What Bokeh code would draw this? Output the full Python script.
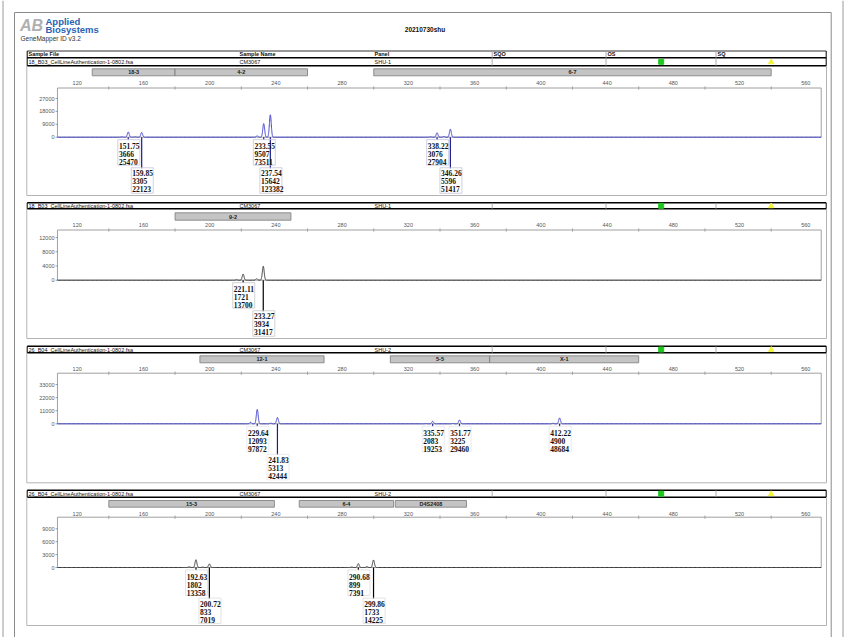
import numpy as np
from bokeh.plotting import figure
from bokeh.models import Range1d
from bokeh.embed import file_html
from bokeh.resources import INLINE
from bokeh.core.properties import value

# ------------------------------------------------------------------ data
title_text = "20210730shu"
software_text = "GeneMapper ID v3.2"
header_cols = ["Sample File", "Sample Name", "Panel", "SQO", "OS", "SQ"]
sample_files = ["18_B03_CellLineAuthentication-1-0802.fsa",
                "18_B03_CellLineAuthentication-1-0802.fsa",
                "26_B04_CellLineAuthentication-1-0802.fsa",
                "26_B04_CellLineAuthentication-1-0802.fsa"]
sample_names = ["CM3067", "CM3067", "CM3067", "CM3067"]
panel_names = ["SHU-1", "SHU-1", "SHU-2", "SHU-2"]

x_tick_labels = [120, 160, 200, 240, 280, 320, 360, 400, 440, 480, 520, 560]
x_minor_ticks = [140, 180, 220, 260, 300, 340, 380, 420, 460, 500, 540]

y_ticks_1 = [0, 9000, 18000, 27000]
y_ticks_2 = [0, 4000, 8000, 12000]
y_ticks_3 = [0, 11000, 22000, 33000]
y_ticks_4 = [0, 3000, 6000, 9000]

bins_1_name = ["18-3", "4-2", "6-7"]
bins_1_start = [130, 180, 300]
bins_1_end = [180, 260, 540]
bins_2_name = ["9-2"]
bins_2_start = [180]
bins_2_end = [250]
bins_3_name = ["12-1", "5-5", "X-1"]
bins_3_start = [195, 310, 370]
bins_3_end = [270, 370, 460]
bins_4_name = ["15-3", "6-4", "D4S2408"]
bins_4_start = [140, 255, 313]
bins_4_end = [240, 312, 356]

# called peaks: size (bp), height (RFU), area
p1_size = [151.75, 159.85, 233.55, 237.54, 338.22, 346.26]
p1_height = [3666, 3305, 9507, 15642, 3076, 5596]
p1_area = [25470, 22123, 73511, 123382, 27904, 51417]
p2_size = [221.11, 233.27]
p2_height = [1721, 3934]
p2_area = [13700, 31417]
p3_size = [229.64, 241.83, 335.57, 351.77, 412.22]
p3_height = [12093, 5313, 2083, 3225, 4900]
p3_area = [97872, 42444, 19253, 29460, 48684]
p4_size = [192.63, 200.72, 290.68, 299.86]
p4_height = [1802, 833, 899, 1733]
p4_area = [13358, 7019, 7391, 14225]

# small uncalled stutter bumps (estimated)
s1_pos = [147.8, 155.9, 229.6, 334.3, 342.3]
s1_h = [300, 300, 900, 300, 500]
s2_pos = [217.1, 229.3]
s2_h = [150, 400]
s3_pos = [225.6, 237.8, 331.6, 347.8, 408.2]
s3_h = [1300, 500, 200, 300, 400]
s4_pos = [188.6, 196.7, 286.7, 295.9]
s4_h = [150, 80, 100, 200]

# ------------------------------------------------------------------ layout
W, H = 846, 637
PAGE_TOP, PAGE_BOT = 0, H
X_START, X_END = 74.60, 585.47          # bp range spanning the whole figure width
PX_PER_BP = W / (X_END - X_START)
PLOT_LEFT, PLOT_RIGHT = 109.0, 570.2     # bp extent of each plot box
SIGMA = 0.55

panels = [
    dict(head=50.5, mid=57.3, bottom=65.3, bin_top=68.3, bin_bot=75.3, xlab=82.0,
         box_top=87.5, base=136.7, s=12.9 / 9000, outer_bot=195.0,
         yt=y_ticks_1, bn=bins_1_name, bs=bins_1_start, be=bins_1_end,
         size=p1_size, h=p1_height, a=p1_area, sp=s1_pos, sh=s1_h,
         trace="#4040cc", stem="#1c1c8c", box="#c4c4dc"),
    dict(head=None, mid=202.3, bottom=208.3, bin_top=212.3, bin_bot=219.7, xlab=224.3,
         box_top=229.5, base=279.7, s=14.23 / 4000, outer_bot=338.0,
         yt=y_ticks_2, bn=bins_2_name, bs=bins_2_start, be=bins_2_end,
         size=p2_size, h=p2_height, a=p2_area, sp=s2_pos, sh=s2_h,
         trace="#3a3a3a", stem="#000000", box="#c8c8c8"),
    dict(head=None, mid=345.7, bottom=352.3, bin_top=355.3, bin_bot=362.3, xlab=368.7,
         box_top=372.7, base=423.3, s=13.1 / 11000, outer_bot=482.3,
         yt=y_ticks_3, bn=bins_3_name, bs=bins_3_start, be=bins_3_end,
         size=p3_size, h=p3_height, a=p3_area, sp=s3_pos, sh=s3_h,
         trace="#4040cc", stem="#1c1c8c", box="#e4e4ee"),
    dict(head=None, mid=489.7, bottom=496.7, bin_top=500.0, bin_bot=506.7, xlab=513.7,
         box_top=516.7, base=567.0, s=12.9 / 3000, outer_bot=625.0,
         yt=y_ticks_4, bn=bins_4_name, bs=bins_4_start, be=bins_4_end,
         size=p4_size, h=p4_height, a=p4_area, sp=s4_pos, sh=s4_h,
         trace="#3a3a3a", stem="#000000", box="#dcdcdc"),
]

SANS = value("Liberation Sans")
SERIF = value("Liberation Serif")

p = figure(width=W, height=H, x_range=Range1d(X_START, X_END),
           y_range=Range1d(PAGE_BOT, PAGE_TOP),
           output_backend="svg", toolbar_location=None, min_border=0,
           x_axis_location=None, y_axis_location=None,
           outline_line_color=None, background_fill_color="white",
           border_fill_color="white")
p.xgrid.visible = False
p.ygrid.visible = False
p.extra_x_ranges = {"px": Range1d(0, W)}
for k, pn in enumerate(panels):
    p.extra_y_ranges[f"p{k}"] = Range1d(-(PAGE_BOT - pn["base"]) / pn["s"],
                                        (pn["base"] - PAGE_TOP) / pn["s"])

PX = dict(x_range_name="px")  # page-pixel x, page-pixel y (default y range)

# ------------------------------------------------------------------ page header
p.segment(x0=[2.5], y0=[0], x1=[2.5], y1=[H], line_color="#9a9a9a", line_width=1, **PX)
p.segment(x0=[842.5], y0=[0], x1=[842.5], y1=[H], line_color="#9a9a9a", line_width=1, **PX)
p.segment(x0=[14, 14, 830.7], y0=[12, 12, 12], x1=[830.7, 14, 830.7],
          y1=[12, H, H], line_color="#8a8a8a", line_width=1, **PX)
p.text(x=[19.5], y=[25], text=["AB"], text_font=SANS, text_font_style="bold italic",
       text_font_size="16px", text_color="#b0b0b0", text_align="left",
       text_baseline="middle", **PX)
p.text(x=[45, 45], y=[21, 28.8], text=["Applied", "Biosystems"], text_font=SANS,
       text_font_style="bold", text_font_size="9.5px", text_color="#2a62b4",
       text_align="left", text_baseline="middle", **PX)
p.text(x=[20], y=[38], text=[software_text], text_font=SANS, text_font_size="6.5px",
       text_color="#333333", text_align="left", text_baseline="middle", **PX)
p.text(x=[424.5], y=[28.7], text=[title_text], text_font=SANS, text_font_style="bold",
       text_font_size="6.5px", text_color="#111111", text_align="center",
       text_baseline="middle", **PX)

TBL_L, TBL_R = 26.7, 825.7
col_x = [28, 239, 374, 493, 607, 717]
sep_x = [491.7, 605.5, 715.5]

for k, pn in enumerate(panels):
    yr = f"p{k}"
    base = pn["base"]
    # ---- sample table
    top = pn["head"] if pn["head"] is not None else pn["mid"]
    if pn["head"] is not None:
        p.segment(x0=[TBL_L], y0=[pn["head"]], x1=[TBL_R], y1=[pn["head"]],
                  line_color="#333333", line_width=1, **PX)
        p.text(x=col_x, y=[(pn["head"] + pn["mid"]) / 2] * 6, text=header_cols,
               text_font=SANS, text_font_style="bold", text_font_size="5.5px",
               text_color="#111111", text_align="left", text_baseline="middle", **PX)
    p.segment(x0=[TBL_L, TBL_L], y0=[pn["mid"], pn["bottom"]],
              x1=[TBL_R, TBL_R], y1=[pn["mid"], pn["bottom"]],
              line_color="#000000", line_width=1.6, **PX)
    p.segment(x0=[TBL_L, TBL_R], y0=[top, top], x1=[TBL_L, TBL_R],
              y1=[pn["bottom"], pn["bottom"]], line_color="#000000", line_width=1, **PX)
    p.segment(x0=sep_x, y0=[top] * 3, x1=sep_x, y1=[pn["bottom"]] * 3,
              line_color="#9a9a9a", line_width=0.8, **PX)
    row_y = (pn["mid"] + pn["bottom"]) / 2
    p.text(x=col_x[:3], y=[row_y] * 3,
           text=[sample_files[k], sample_names[k], panel_names[k]],
           text_font=SANS, text_font_size="5.5px", text_color="#111111",
           text_align="left", text_baseline="middle", **PX)
    p.scatter(x=[660.7], y=[row_y], marker="square", size=5, fill_color="#1ec81e",
              line_color="#1ec81e", **PX)
    p.scatter(x=[770.7], y=[row_y + 0.3], marker="triangle", size=5.5,
              fill_color="#f4f43c", line_color="#f4f43c", **PX)

    # ---- outer panel frame
    p.segment(x0=[26.3, 826, 26.3], y0=[pn["bottom"], pn["bottom"], pn["outer_bot"]],
              x1=[26.3, 826, 826], y1=[pn["outer_bot"], pn["outer_bot"], pn["outer_bot"]],
              line_color="#b4b4b4", line_width=1, **PX)

    # ---- bins
    p.quad(left=pn["bs"], right=pn["be"], top=[pn["bin_top"]] * len(pn["bs"]),
           bottom=[pn["bin_bot"]] * len(pn["bs"]), fill_color="#c4c4c4",
           line_color="#7a7a7a", line_width=0.8)
    p.text(x=[(a + b) / 2 for a, b in zip(pn["bs"], pn["be"])],
           y=[(pn["bin_top"] + pn["bin_bot"]) / 2] * len(pn["bs"]), text=pn["bn"],
           text_font=SANS, text_font_style="bold", text_font_size="5.5px",
           text_color="#222222", text_align="center", text_baseline="middle")

    # ---- x axis (top)
    p.text(x=x_tick_labels, y=[pn["xlab"]] * len(x_tick_labels),
           text=[str(t) for t in x_tick_labels], x_offset=1.5,
           text_font=SANS, text_font_size="5.5px", text_color="#555555",
           text_align="center", text_baseline="middle")
    p.segment(x0=x_minor_ticks, y0=[pn["box_top"] - 1.6] * len(x_minor_ticks),
              x1=x_minor_ticks, y1=[pn["box_top"] + 1.6] * len(x_minor_ticks),
              line_color="#888888", line_width=0.8)

    # ---- plot box
    p.quad(left=[PLOT_LEFT], right=[PLOT_RIGHT], top=[pn["box_top"]], bottom=[base],
           fill_color=None, line_color="#a0a0a0", line_width=1)

    # ---- y axis (left)
    p.text(x=[54] * len(pn["yt"]), y=pn["yt"], text=[str(t) for t in pn["yt"]],
           text_font=SANS, text_font_size="5.5px", text_color="#555555",
           text_align="right", text_baseline="middle", x_range_name="px",
           y_range_name=yr)
    p.segment(x0=[55] * len(pn["yt"]), y0=pn["yt"], x1=[57.2] * len(pn["yt"]),
              y1=pn["yt"], line_color="#888888", line_width=0.8, x_range_name="px",
              y_range_name=yr)

    # ---- trace
    pos = list(pn["size"]) + list(pn["sp"])
    hts = list(pn["h"]) + list(pn["sh"])
    grids = [np.linspace(PLOT_LEFT, PLOT_RIGHT, 600)]
    for c in pos:
        grids.append(np.linspace(c - 3, c + 3, 121))
    tx = np.unique(np.concatenate(grids))
    ty = np.zeros_like(tx)
    for c, hh in zip(pos, hts):
        ty += hh * np.exp(-0.5 * ((tx - c) / SIGMA) ** 2)
    p.line(tx, ty, line_color=pn["trace"], line_width=1, y_range_name=yr)

    # ---- peak labels
    rows, last0 = [], -1e9
    for sz in pn["size"]:
        if sz - last0 < 15:
            rows.append(1)
        else:
            rows.append(0)
            last0 = sz
    stem_end = [base + (31 if r else 2.5) for r in rows]
    p.segment(x0=pn["size"], y0=[base] * len(rows), x1=pn["size"], y1=stem_end,
              line_color=pn["stem"], line_width=1.2)
    box_y = [base + (43.3 if r else 15.2) for r in rows]
    p.rect(x=[sz + 0.6 / PX_PER_BP for sz in pn["size"]], y=box_y, width=22,
           height=25.5, width_units="screen", height_units="screen",
           fill_color=None, line_color=pn["box"], line_width=0.8)
    lx, ly, lt = [], [], []
    for sz, hh, ar, r in zip(pn["size"], pn["h"], pn["a"], rows):
        offs = [36, 44, 52] if r else [9, 17, 25]
        for o, t in zip(offs, [f"{sz:.2f}", str(hh), str(ar)]):
            lx.append(sz)
            ly.append(base + o)
            lt.append(t)
    p.text(x=lx, y=ly, text=lt, x_offset=-9.3, text_font=SERIF,
           text_font_style="bold", text_font_size="7.5px", text_color="#111111",
           text_align="left", text_baseline="middle")

open("out.html", "w").write(file_html(p, INLINE))
